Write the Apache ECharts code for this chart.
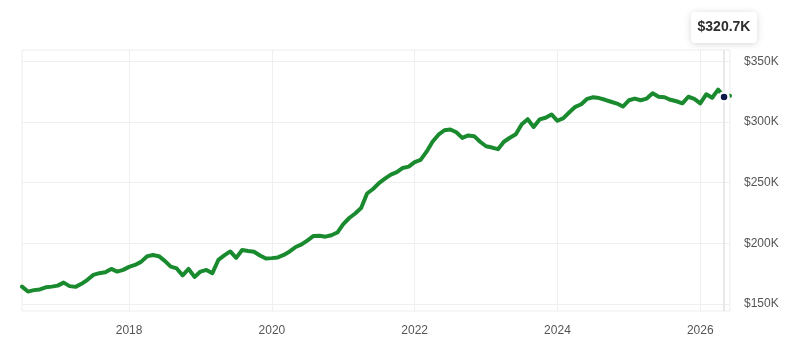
<!DOCTYPE html>
<html>
<head>
<meta charset="utf-8">
<script src="https://cdn.jsdelivr.net/npm/echarts@6/dist/echarts.min.js"></script>
<style>
  html, body { margin: 0; padding: 0; background: #fff; }
  #chart { width: 799px; height: 362px; }
</style>
</head>
<body>
<div id="chart"></div>
<script>
// ---- data (thousands of USD), monthly from Jul 2016 to Jun 2026 ----
const startYear = 2016;
const startMonth = 7; // July
const values = [
  164.2, 160.1, 161.3, 161.9, 163.6, 164.2, 165.0, 167.5, 164.6, 164.0, 166.5, 169.8,
  173.9, 175.3, 176.1, 178.8, 176.6, 178.0, 180.5, 182.1, 184.6, 189.1, 190.3, 189.3,
  185.4, 180.7, 179.2, 173.5, 178.8, 172.2, 176.6, 178.0, 175.3, 186.2, 189.9, 193.2,
  187.9, 194.4, 193.6, 193.0, 189.9, 187.4, 187.7, 188.3, 190.3, 193.2, 196.9, 199.0,
  202.3, 206.0, 206.2, 205.4, 206.6, 208.8, 215.8, 220.8, 224.5, 229.0, 241.0, 244.7,
  249.6, 253.3, 256.6, 258.6, 262.1, 263.2, 266.9, 268.7, 275.5, 283.7, 289.5, 293.2,
  293.8, 291.5, 286.9, 288.9, 288.3, 283.7, 280.0, 278.9, 277.6, 283.7, 287.0, 289.9,
  298.1, 302.3, 295.9, 302.1, 303.5, 306.2, 301.0, 303.2, 308.0, 312.5, 314.6, 319.1,
  320.4, 319.7, 318.3, 316.7, 315.2, 312.7, 317.9, 319.3, 317.9, 319.3, 323.7, 320.8,
  320.4, 318.3, 317.1, 315.4, 320.8, 319.1, 315.4, 322.8, 320.0, 326.7, 320.7, 321.6
];
const highlightIndex = 118; // May 2026
const xTickYears = [2018, 2020, 2022, 2024, 2026];
const yTickValues = [150, 200, 250, 300, 350];

// ---- build series: x as decimal year (month start) ----
const xs = values.map((v, i) => startYear + (startMonth - 1 + i) / 12);
const lineData = values.map((v, i) => [xs[i], v]);
const fmtK = v => '$' + (Math.round(v * 10) / 10) + 'K';
const FONT = 'Arial, "Liberation Sans", sans-serif';

const chart = echarts.init(document.getElementById('chart'), null, { renderer: 'canvas' });

const option = {
  animation: false,
  backgroundColor: '#ffffff',
  textStyle: { fontFamily: FONT },
  grid: {
    left: 22, right: 69, top: 50, bottom: 51,
    show: true, borderColor: '#ededed', borderWidth: 1, containLabel: false
  },
  xAxis: {
    type: 'value',
    min: xs[0],
    max: xs[xs.length - 1],
    axisLine: { show: false },
    axisTick: { show: false, customValues: xTickYears },
    axisLabel: {
      customValues: xTickYears,
      formatter: v => String(Math.round(v)),
      color: '#555', fontSize: 12, margin: 14, fontFamily: FONT
    },
    splitLine: { show: true, lineStyle: { color: '#efefef', width: 1 } }
  },
  yAxis: {
    type: 'value',
    position: 'right',
    min: v => v.min * 0.9,
    max: v => v.max * 1.1,
    axisLine: { show: false },
    axisTick: { show: false, customValues: yTickValues },
    axisLabel: {
      customValues: yTickValues,
      formatter: v => fmtK(v),
      color: '#555', fontSize: 12, margin: 14, fontFamily: FONT
    },
    splitLine: { show: true, lineStyle: { color: '#efefef', width: 1 } }
  },
  series: [
    {
      type: 'line',
      data: lineData,
      showSymbol: false,
      symbol: 'none',
      lineStyle: { color: '#1a8a2f', width: 4, cap: 'round', join: 'round' },
      z: 3,
      markLine: {
        silent: true,
        symbol: 'none',
        label: { show: false },
        lineStyle: { color: '#e0e0e0', width: 1.5, type: 'solid' },
        data: [{ xAxis: xs[highlightIndex] }],
        z: 2
      }
    },
    {
      type: 'scatter',
      data: [[xs[highlightIndex], values[highlightIndex]]],
      symbol: 'circle',
      symbolSize: 9,
      itemStyle: { color: '#0c1a4b', borderColor: '#ffffff', borderWidth: 2.5, opacity: 1 },
      z: 5
    }
  ]
};
chart.setOption(option);

// tooltip-like label above the highlighted point
const p = chart.convertToPixel({ gridIndex: 0 }, [xs[highlightIndex], values[highlightIndex]]);
const boxW = 66, boxH = 31;
chart.setOption({
  graphic: [{
    type: 'group',
    left: Math.round(p[0] - boxW / 2),
    top: 12,
    children: [
      {
        type: 'rect',
        shape: { x: 0, y: 0, width: boxW, height: boxH, r: 4 },
        style: { fill: '#ffffff', shadowBlur: 7, shadowColor: 'rgba(0,0,0,0.16)', shadowOffsetY: 1 }
      },
      {
        type: 'text',
        style: {
          x: boxW / 2, y: boxH / 2,
          text: fmtK(values[highlightIndex]),
          align: 'center', verticalAlign: 'middle',
          fill: '#2d2d2d', fontSize: 14, fontWeight: 'bold', fontFamily: FONT
        }
      }
    ]
  }]
});
</script>
</body>
</html>
